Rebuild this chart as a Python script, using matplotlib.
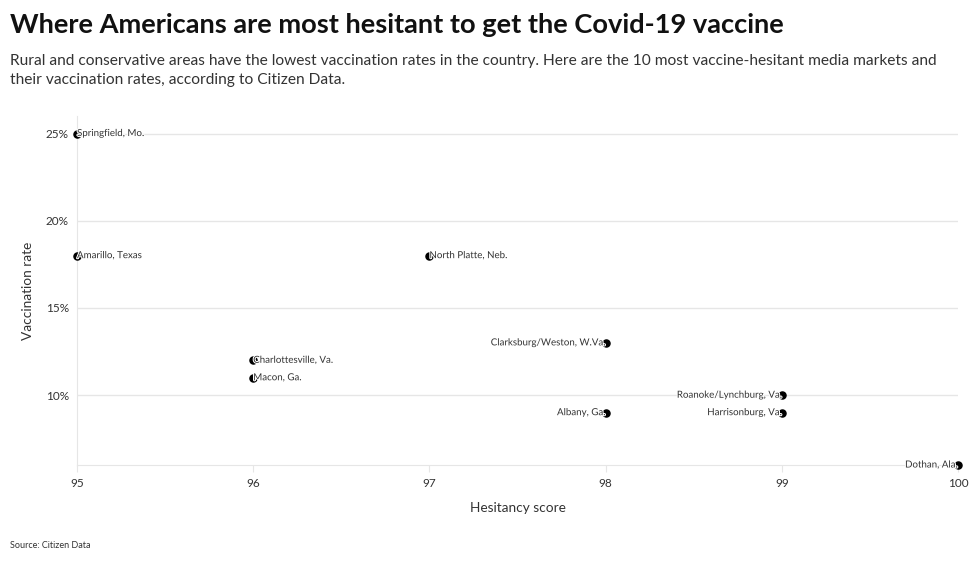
import matplotlib.pyplot as plt
import matplotlib.patheffects as pe
from matplotlib.ticker import FuncFormatter

plt.rcParams['font.family'] = ['Lato', 'DejaVu Sans']

markets = ["Springfield, Mo.", "Amarillo, Texas", "North Platte, Neb.",
           "Charlottesville, Va.", "Macon, Ga.", "Clarksburg/Weston, W.Va.",
           "Albany, Ga.", "Roanoke/Lynchburg, Va.", "Harrisonburg, Va.",
           "Dothan, Ala."]
hesitancy = [95, 95, 97, 96, 96, 98, 98, 99, 99, 100]
vacc_rate = [25, 18, 18, 12, 11, 13, 9, 10, 9, 6]

fig = plt.figure(figsize=(9.8, 5.61), dpi=100)
ax = fig.add_axes([0.0786, 0.1711, 0.899, 0.622])

ax.scatter(hesitancy, vacc_rate, s=26, color="black", zorder=3, clip_on=False)
halo = [pe.withStroke(linewidth=1.5, foreground="white")]
for name, x, y in zip(markets, hesitancy, vacc_rate):
    ha = "right" if x >= 98 else "left"
    ax.text(x, y, name, ha=ha, va="center", fontsize=7.0, color="#333333",
            zorder=4, path_effects=halo)

ax.set_xlim(95, 100)
ax.set_ylim(6, 26)
ax.set_xticks([95, 96, 97, 98, 99, 100])
ax.set_yticks([10, 15, 20, 25])
ax.yaxis.set_major_formatter(FuncFormatter(lambda v, p: f"{v:.0f}%"))
ax.grid(axis="y", color="#e6e6e6", linewidth=1)
for s in ["top", "right"]:
    ax.spines[s].set_visible(False)
ax.spines["left"].set_color("#e6e6e6")
ax.spines["bottom"].set_color("#e6e6e6")
ax.tick_params(axis="both", length=0, labelsize=8.5, colors="#333333", pad=6)
ax.tick_params(axis="x", length=5, color="#e6e6e6", pad=4)

ax.set_xlabel("Hesitancy score", fontsize=9.8, color="#333333", labelpad=10)
ax.set_ylabel("Vaccination rate", fontsize=9.8, color="#333333", labelpad=8)

fig.text(0.0102, 0.955, "Where Americans are most hesitant to get the Covid-19 vaccine",
         fontsize=19.6, fontweight="bold", color="#111111", va="center")
fig.text(0.0102, 0.875, "Rural and conservative areas have the lowest vaccination rates in the country. "
         "Here are the 10 most vaccine-hesitant media markets and\ntheir vaccination rates, according to Citizen Data.",
         fontsize=11.2, color="#333333", va="center", linespacing=1.45)
fig.text(0.0102, 0.028, "Source: Citizen Data", fontsize=6.5, color="#333333", va="center")

fig.savefig("out.png", dpi=100)
